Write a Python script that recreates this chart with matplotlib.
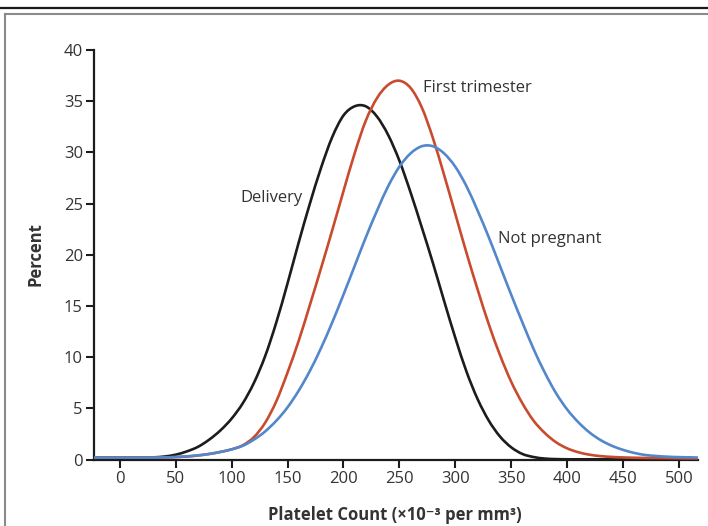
import matplotlib
matplotlib.use("Agg")
import matplotlib.pyplot as plt
from matplotlib.lines import Line2D
from matplotlib.path import Path
from matplotlib.patches import PathPatch

plt.rcParams['font.family'] = ['Open Sans', 'DejaVu Sans']

# platelet count (x10^-3 per mm3) sample positions
count = [-23, 0, 10, 20, 30, 40, 50, 60, 70, 80, 90,
         100, 110, 120, 130, 140, 150, 160, 170, 180, 190,
         200, 210, 220, 230, 240, 250, 260, 270, 280, 290,
         300, 310, 320, 330, 340, 350, 360, 370, 380, 390,
         400, 410, 420, 430, 440, 450, 460, 470, 480, 490,
         500, 510, 517]

# percent
delivery = [0.2, 0.2, 0.2, 0.2, 0.22, 0.3, 0.48, 0.8, 1.25, 1.95, 2.85,
            4.0, 5.5, 7.5, 10.1, 13.4, 17.2, 21.2, 25.0, 28.5, 31.5,
            33.6, 34.5, 34.5, 33.5, 31.7, 29.2, 26.1, 22.7, 19.2, 15.5,
            11.9, 8.6, 5.9, 3.8, 2.25, 1.2, 0.55, 0.25, 0.1, 0.05,
            0.03, 0.03, 0.03, 0.03, 0.03, 0.03, 0.03, 0.03, 0.03, 0.03,
            0.03, 0.03, 0.03]

first_trimester = [0.2, 0.2, 0.2, 0.2, 0.2, 0.2, 0.25, 0.3, 0.4, 0.55, 0.75,
                   1.0, 1.4, 2.2, 3.6, 5.7, 8.5, 11.6, 15.1, 18.7, 22.4,
                   26.2, 29.9, 33.1, 35.3, 36.6, 37.0, 36.3, 34.4, 31.4, 27.8,
                   24.0, 20.2, 16.6, 13.2, 10.2, 7.6, 5.5, 3.8, 2.6, 1.7,
                   1.1, 0.72, 0.48, 0.34, 0.26, 0.21, 0.18, 0.16, 0.15, 0.14,
                   0.13, 0.12, 0.12]

not_pregnant = [0.2, 0.2, 0.2, 0.2, 0.2, 0.22, 0.25, 0.32, 0.42, 0.55, 0.75,
                1.0, 1.35, 1.95, 2.75, 3.8, 5.1, 6.73, 8.66, 10.9, 13.4,
                16.1, 18.9, 21.7, 24.3, 26.7, 28.6, 29.9, 30.6, 30.6, 29.9,
                28.6, 26.7, 24.3, 21.7, 18.9, 16.1, 13.4, 10.8, 8.5, 6.5,
                4.9, 3.65, 2.65, 1.9, 1.35, 0.95, 0.65, 0.45, 0.35, 0.28,
                0.24, 0.22, 0.2]

x_ticks = [0, 50, 100, 150, 200, 250, 300, 350, 400, 450, 500]
y_ticks = [0, 5, 10, 15, 20, 25, 30, 35, 40]

BLACK = '#1c1c1c'
RED = '#c94b2e'
BLUE = '#5387cb'
TEXT = '#333333'


def smooth_path(xs, ys):
    # cubic bezier through the points (hermite slopes from neighbours)
    n = len(xs)
    m = []
    for i in range(n):
        a = max(i - 1, 0)
        b = min(i + 1, n - 1)
        m.append((ys[b] - ys[a]) / (xs[b] - xs[a]))
    verts = [(xs[0], ys[0])]
    codes = [Path.MOVETO]
    for i in range(n - 1):
        h = xs[i + 1] - xs[i]
        verts += [(xs[i] + h / 3, ys[i] + m[i] * h / 3),
                  (xs[i + 1] - h / 3, ys[i + 1] - m[i + 1] * h / 3),
                  (xs[i + 1], ys[i + 1])]
        codes += [Path.CURVE4] * 3
    return Path(verts, codes)


fig = plt.figure(figsize=(7.08, 5.26), dpi=100)
ax = fig.add_axes([94 / 708, 1 - 459.6 / 526, (698 - 94) / 708, (459.6 - 50) / 526])

for ys, col, z in [(delivery, BLACK, 3), (first_trimester, RED, 4), (not_pregnant, BLUE, 5)]:
    ax.add_patch(PathPatch(smooth_path(count, ys), fill=False, edgecolor=col,
                           lw=1.9, capstyle='butt', zorder=z))

ax.set_xlim(-23, 517)
ax.set_ylim(0, 40)
ax.set_xticks(x_ticks)
ax.set_yticks(y_ticks)

for s in ['top', 'right']:
    ax.spines[s].set_visible(False)
for s in ['left', 'bottom']:
    ax.spines[s].set_linewidth(1.6)
    ax.spines[s].set_color(BLACK)
    ax.spines[s].set_zorder(2)

ax.tick_params(axis='both', direction='out', length=6, width=1.5, color=BLACK,
               labelsize=12, labelcolor=TEXT)
ax.tick_params(axis='x', pad=2.5)
ax.tick_params(axis='y', pad=2)

ax.text(108, 25.5, 'Delivery', ha='left', va='center', fontsize=12, color=TEXT)
ax.text(271, 36.3, 'First trimester', ha='left', va='center', fontsize=12, color=TEXT)
ax.text(338, 21.5, 'Not pregnant', ha='left', va='center', fontsize=12, color=TEXT)

fig.text(395 / 708, 1 - 520 / 526, 'Platelet Count (×10⁻³ per mm³)', ha='center',
         va='baseline', fontsize=12, fontweight='bold', color=TEXT)
fig.text(35 / 708, 1 - 254 / 526, 'Percent', rotation=90, ha='center', va='center',
         fontsize=12, fontweight='bold', color=TEXT)

# frame lines
fig.add_artist(Line2D([0, 1], [1 - 7.7 / 526, 1 - 7.7 / 526], color='#1a1a1a', lw=1.6))
fig.add_artist(Line2D([4.5 / 708, 1], [1 - 14.3 / 526, 1 - 14.3 / 526], color='#8a8a8a', lw=1.5))
fig.add_artist(Line2D([4.5 / 708, 4.5 / 708], [0, 1 - 14.3 / 526], color='#8a8a8a', lw=1.5))

fig.savefig('out.png', dpi=100)
